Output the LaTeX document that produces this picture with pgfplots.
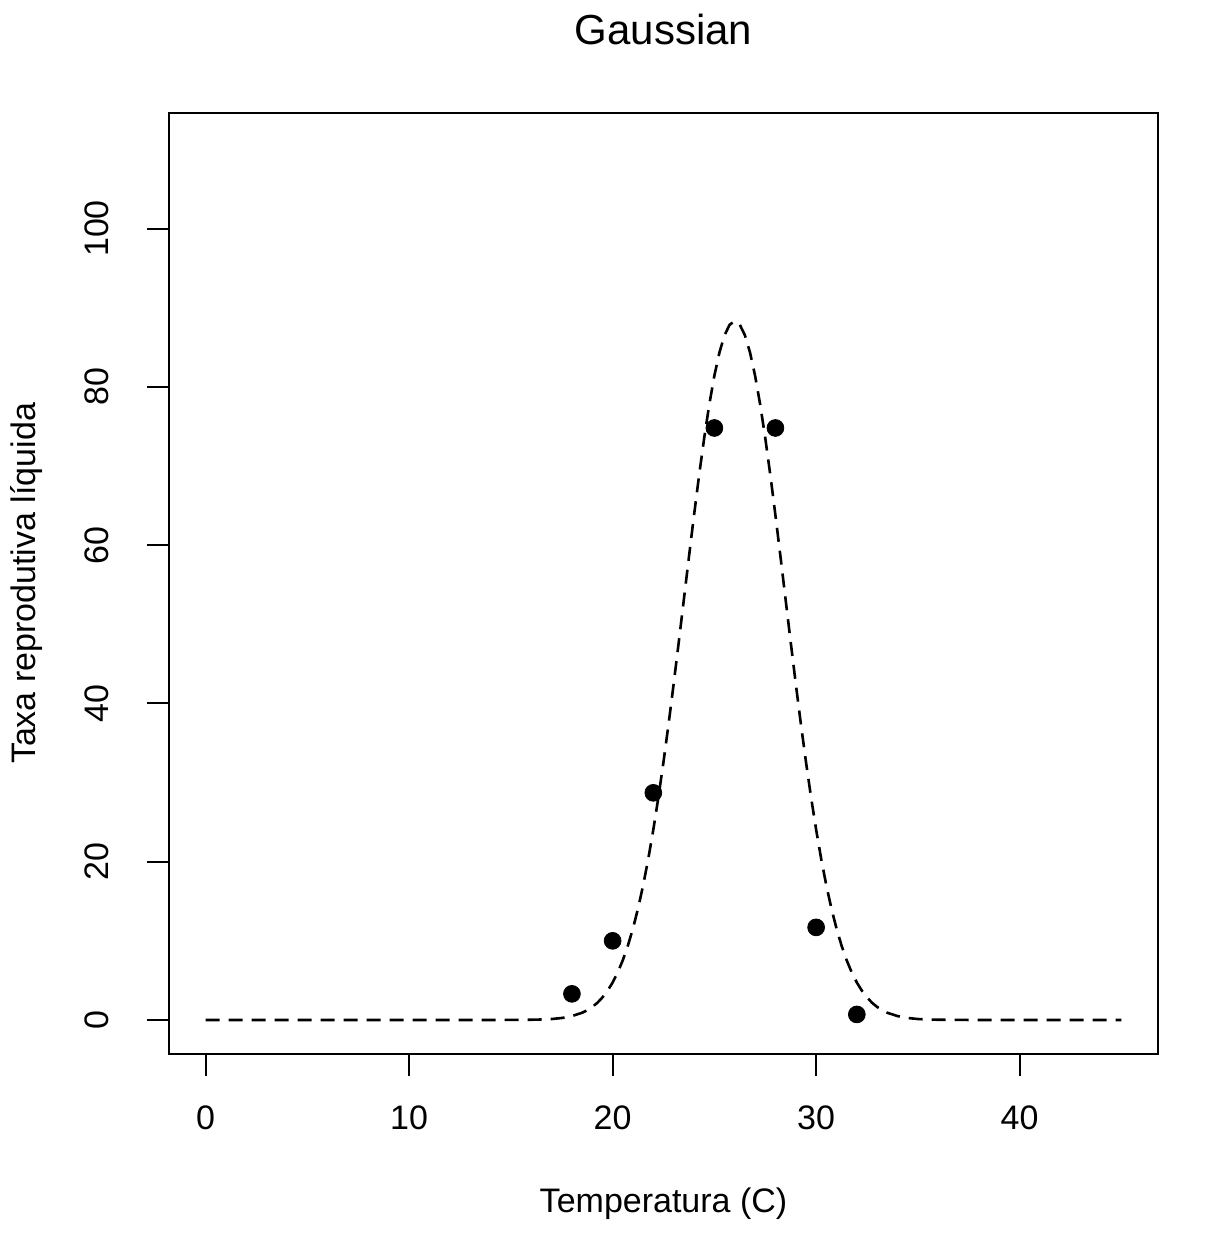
\documentclass[border=0pt]{standalone}
\usepackage{fontspec}
\setmainfont{Liberation Sans}
\usepackage{pgfplots}
\pgfplotsset{compat=1.18}
\begin{document}
\begin{tikzpicture}
\useasboundingbox (-84.5pt,-96pt) rectangle (526.5pt,527pt);
\begin{axis}[
  at={(0,0)}, anchor=south west,
  scale only axis,
  width=494.5pt, height=470.5pt,
  xmin=-1.8, xmax=46.8,
  ymin=-4.3, ymax=114.6,
  xtick={0,10,20,30,40},
  ytick={0,20,40,60,80,100},
  tick pos=left,
  tick align=outside,
  major tick length=11pt,
  axis line style={line width=1pt},
  every tick/.style={black, line width=1pt},
  /pgf/number format/assume math mode=true,
  tick label style={font=\fontsize{17}{20}\selectfont},
  xticklabel style={anchor=center, yshift=-21pt},
  yticklabel style={xshift=-25pt, rotate=90, anchor=center},
  label style={font=\fontsize{17}{20}\selectfont},
  xlabel={Temperatura (C)},
  ylabel={Taxa reprodutiva líquida},
  xlabel style={at={(axis description cs:0.5,-0.1595)}, anchor=center},
  ylabel style={at={(axis description cs:-0.1436,0.5)}, anchor=center, rotate=0},
  title={Gaussian},
  title style={at={(axis description cs:0.5,1.0765)}, anchor=center, font=\fontsize{21}{24}\selectfont},
]
\addplot[black, line width=1.3pt, dash pattern=on 7pt off 4.5pt] coordinates {
(0,0) (5,0) (10,0) (14,0) (15,0.005) (16,0.03) (16.5,0.06) (17,0.12) (17.5,0.25) (18,0.49) (18.5,0.91) (18.75,1.23) (19,1.64) (19.25,2.17) (19.5,2.85) (19.75,3.69) (20,4.73) (20.25,6.01) (20.5,7.55) (20.75,9.39) (21,11.57) (21.25,14.10) (21.5,17.02) (21.75,20.34) (22,24.05) (22.25,28.15) (22.5,32.62) (22.75,37.41) (23,42.48) (23.25,47.75) (23.5,53.12) (23.75,58.51) (24,63.78) (24.25,68.84) (24.5,73.54) (24.75,77.77) (25,81.41) (25.25,84.35) (25.5,86.52) (25.75,87.85) (26,88.30) (26.25,87.85) (26.5,86.52) (26.75,84.35) (27,81.41) (27.25,77.77) (27.5,73.54) (27.75,68.84) (28,63.78) (28.25,58.51) (28.5,53.12) (28.75,47.75) (29,42.48) (29.25,37.41) (29.5,32.62) (29.75,28.15) (30,24.05) (30.25,20.34) (30.5,17.02) (30.75,14.10) (31,11.57) (31.25,9.39) (31.5,7.55) (31.75,6.01) (32,4.73) (32.25,3.69) (32.5,2.85) (32.75,2.17) (33,1.64) (33.25,1.23) (33.5,0.91) (34,0.49) (34.5,0.25) (35,0.12) (35.5,0.06) (36,0.03) (37,0.005) (38,0) (40,0) (45,0)
};
\addplot[only marks, mark=*, mark size=4.2pt, black] coordinates {
(18,3.3) (20,10.0) (22,28.7) (25,74.8) (28,74.8) (30,11.7) (32,0.7)
};
\end{axis}
\end{tikzpicture}
\end{document}
